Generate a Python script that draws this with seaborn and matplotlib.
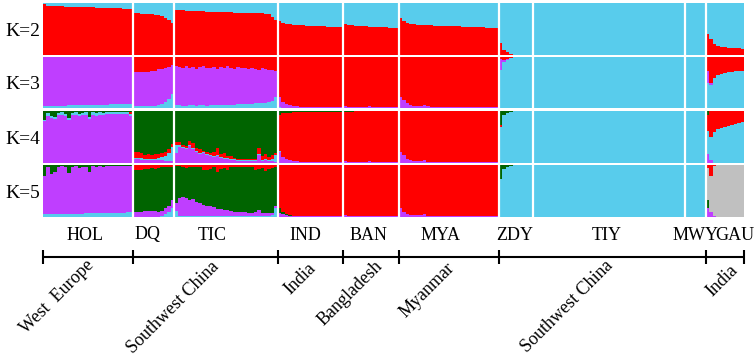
import numpy as np
import pandas as pd
import matplotlib
matplotlib.use("Agg")
import matplotlib.pyplot as plt
import seaborn as sns

# ---------------------------------------------------------------- data
GROUPS = ["HOL", "DQ", "TIC", "IND", "BAN", "MYA", "ZDY", "TIY", "MWY", "GAU"]
REGIONS = ["West  Europe", "Southwest China", "India", "Bangladesh",
           "Myanmar", "Southwest China", "India"]
REGION_GROUPS = [["HOL"], ["DQ", "TIC"], ["IND"], ["BAN"], ["MYA"],
                 ["ZDY", "TIY", "MWY"], ["GAU"]]
K_LABELS = ["K=2", "K=3", "K=4", "K=5"]

# cluster columns, listed bottom -> top of each bar
K2_COLS = ["red", "blue"]
K3_COLS = ["blue", "purple", "red"]
K4_COLS = ["purple", "blue", "red", "green"]
K5_COLS = ["blue", "purple", "green", "gray", "red"]

# K=2 : red share of each individual (blue is the rest)
K2_RED = {
    "HOL": [0.99, 0.95, 0.95, 0.94, 0.94, 0.94, 0.93, 0.93, 0.93, 0.93, 0.92, 0.92, 0.92,
            0.92, 0.92, 0.91, 0.91, 0.91, 0.91, 0.90, 0.90, 0.90, 0.90, 0.89, 0.89, 0.89],
    "DQ": [0.80, 0.80, 0.79, 0.79, 0.78, 0.78, 0.77, 0.76, 0.75, 0.72, 0.68, 0.62],
    "TIC": [0.87, 0.86, 0.86, 0.85, 0.85, 0.85, 0.84, 0.84, 0.84, 0.83, 0.83, 0.83, 0.83,
            0.82, 0.82, 0.82, 0.82, 0.81, 0.81, 0.81, 0.81, 0.81, 0.80, 0.80, 0.80, 0.80,
            0.79, 0.78, 0.74, 0.67],
    "IND": [0.66, 0.62, 0.60, 0.59, 0.58, 0.58, 0.57, 0.57, 0.56, 0.56, 0.56, 0.55, 0.55,
            0.55, 0.54, 0.54, 0.54, 0.53, 0.53],
    "BAN": [0.59, 0.58, 0.57, 0.56, 0.56, 0.55, 0.55, 0.54, 0.54, 0.54, 0.53, 0.53, 0.53,
            0.52, 0.52, 0.51],
    "MYA": [0.72, 0.65, 0.61, 0.60, 0.59, 0.58, 0.58, 0.57, 0.57, 0.57, 0.56, 0.56, 0.56,
            0.56, 0.55, 0.55, 0.55, 0.55, 0.54, 0.54, 0.54, 0.54, 0.53, 0.53, 0.53, 0.52,
            0.52, 0.52, 0.51],
    "ZDY": [0.23, 0.10, 0.05, 0.02, 0.0, 0.0, 0.0, 0.0, 0.0, 0.0],
    "TIY": [0.0] * 44,
    "MWY": [0.0] * 6,
    "GAU": [0.40, 0.30, 0.22, 0.18, 0.16, 0.15, 0.14, 0.14, 0.13, 0.13, 0.12],
}

# K=3 rows: (blue, purple, red)
K3_ROWS = {
    "HOL": [(0.03, 0.97, 0)] * 3 + [(0.04, 0.96, 0)] * 4 + [(0.05, 0.95, 0)] * 7
           + [(0.06, 0.94, 0)] * 5 + [(0.07, 0.93, 0)] * 4 + [(0.08, 0.92, 0)] * 3,
    "DQ": [(0.03, 0.68, 0.29), (0.03, 0.68, 0.29), (0.03, 0.67, 0.30), (0.03, 0.67, 0.30),
           (0.04, 0.67, 0.29), (0.04, 0.68, 0.28), (0.04, 0.69, 0.27), (0.05, 0.71, 0.24),
           (0.07, 0.70, 0.23), (0.12, 0.66, 0.22), (0.18, 0.62, 0.20), (0.27, 0.57, 0.16)],
    "TIC": [(0.05, 0.78, 0.17), (0.05, 0.75, 0.20), (0.04, 0.74, 0.22), (0.04, 0.78, 0.18),
            (0.05, 0.74, 0.21), (0.05, 0.76, 0.19), (0.04, 0.73, 0.23), (0.05, 0.75, 0.20),
            (0.05, 0.77, 0.18), (0.04, 0.74, 0.22), (0.05, 0.74, 0.21), (0.05, 0.76, 0.19),
            (0.05, 0.72, 0.23), (0.06, 0.74, 0.20), (0.05, 0.73, 0.22), (0.06, 0.76, 0.18),
            (0.06, 0.73, 0.21), (0.06, 0.71, 0.23), (0.07, 0.73, 0.20), (0.07, 0.72, 0.21),
            (0.07, 0.71, 0.22), (0.08, 0.68, 0.24), (0.08, 0.71, 0.21), (0.09, 0.68, 0.23),
            (0.09, 0.66, 0.25), (0.10, 0.68, 0.22), (0.10, 0.66, 0.24), (0.11, 0.63, 0.26),
            (0.14, 0.61, 0.25), (0.22, 0.51, 0.27)],
    "IND": [(0.02, 0.20, 0.78), (0, 0.12, 0.88), (0, 0.07, 0.93), (0, 0.05, 0.95),
            (0, 0.03, 0.97), (0, 0.03, 0.97), (0, 0.02, 0.98), (0, 0.02, 0.98),
            (0, 0.02, 0.98)] + [(0, 0.01, 0.99)] * 10,
    "BAN": [(0, 0.04, 0.96), (0, 0.02, 0.98)] + [(0, 0.01, 0.99)] * 5
           + [(0, 0.03, 0.97)] + [(0, 0.01, 0.99)] * 8,
    "MYA": [(0, 0.22, 0.78), (0, 0.15, 0.85), (0, 0.09, 0.91), (0, 0.06, 0.94),
            (0, 0.04, 0.96), (0, 0.03, 0.97), (0, 0.03, 0.97), (0, 0.06, 0.94),
            (0, 0.03, 0.97)] + [(0, 0.02, 0.98)] * 20,
    "ZDY": [(0.75, 0.22, 0.03), (0.91, 0.04, 0.05), (0.95, 0.01, 0.04), (0.98, 0, 0.02)]
           + [(1, 0, 0)] * 6,
    "TIY": [(1, 0, 0)] * 44,
    "MWY": [(1, 0, 0)] * 6,
    "GAU": [(0.49, 0.23, 0.28), (0.45, 0.05, 0.50), (0.58, 0, 0.42), (0.64, 0, 0.36),
            (0.67, 0, 0.33), (0.69, 0, 0.31), (0.70, 0, 0.30), (0.71, 0, 0.29),
            (0.72, 0, 0.28), (0.73, 0, 0.27), (0.73, 0, 0.27)],
}

# K=4 rows: (purple, blue, red, green)
K4_ROWS = {
    "HOL": [(0.81, 0.02, 0, 0.17), (0.91, 0.05, 0, 0.04), (0.86, 0.04, 0, 0.10),
            (0.85, 0.03, 0, 0.12), (0.92, 0.05, 0, 0.03), (0.93, 0.05, 0, 0.02),
            (0.91, 0.04, 0, 0.05), (0.83, 0.03, 0, 0.14), (0.92, 0.05, 0, 0.03),
            (0.93, 0.05, 0, 0.02), (0.90, 0.04, 0, 0.06), (0.92, 0.05, 0, 0.03),
            (0.93, 0.05, 0, 0.02), (0.85, 0.03, 0, 0.12), (0.93, 0.05, 0, 0.02),
            (0.91, 0.05, 0, 0.04), (0.93, 0.05, 0, 0.02), (0.92, 0.04, 0, 0.04)]
           + [(0.94, 0.05, 0, 0.01)] * 7 + [(0.90, 0.05, 0.04, 0.01)],
    "DQ": [(0.07, 0.03, 0.12, 0.78), (0.07, 0.03, 0.12, 0.78), (0.06, 0.03, 0.10, 0.81),
           (0.05, 0.03, 0.08, 0.84), (0.05, 0.03, 0.09, 0.83), (0.05, 0.03, 0.08, 0.84),
           (0.05, 0.03, 0.10, 0.82), (0.05, 0.04, 0.08, 0.83), (0.05, 0.06, 0.08, 0.81),
           (0.04, 0.10, 0.07, 0.79), (0.04, 0.16, 0.06, 0.74), (0.04, 0.26, 0.06, 0.64)],
    "TIC": [(0.20, 0.15, 0.05, 0.60), (0.30, 0.04, 0.06, 0.60), (0.28, 0.02, 0.04, 0.66),
            (0.27, 0.02, 0.03, 0.68), (0.32, 0.02, 0.08, 0.58), (0.26, 0.02, 0.10, 0.62),
            (0.22, 0.02, 0.04, 0.72), (0.18, 0.02, 0.06, 0.74), (0.19, 0.02, 0.03, 0.76),
            (0.15, 0.02, 0.05, 0.78), (0.14, 0.02, 0.04, 0.80), (0.12, 0.02, 0.08, 0.78),
            (0.14, 0.02, 0.12, 0.72), (0.10, 0.02, 0.06, 0.82), (0.08, 0.02, 0.10, 0.80),
            (0.07, 0.02, 0.05, 0.86), (0.06, 0.02, 0.06, 0.86), (0.05, 0.02, 0.03, 0.90),
            (0.04, 0.02, 0.02, 0.92), (0.03, 0.02, 0.03, 0.92), (0.03, 0.02, 0.03, 0.92),
            (0.03, 0.02, 0.02, 0.93), (0.03, 0.02, 0.03, 0.92), (0.03, 0.02, 0.03, 0.92),
            (0.15, 0.03, 0.10, 0.72), (0.04, 0.02, 0.08, 0.86), (0.05, 0.03, 0.10, 0.82),
            (0.03, 0.03, 0.06, 0.88), (0.03, 0.05, 0.08, 0.84), (0.02, 0.14, 0.04, 0.80)],
    "IND": [(0.22, 0.02, 0.68, 0.08), (0.12, 0, 0.84, 0.04), (0.07, 0, 0.90, 0.03),
            (0.05, 0, 0.92, 0.03), (0.04, 0, 0.94, 0.02), (0.03, 0, 0.95, 0.02),
            (0.02, 0, 0.96, 0.02), (0.02, 0, 0.97, 0.01)] + [(0.01, 0, 0.98, 0.01)] * 11,
    "BAN": [(0.04, 0, 0.94, 0.02), (0.01, 0, 0.97, 0.02), (0.01, 0, 0.97, 0.02)]
           + [(0.01, 0, 0.99, 0)] * 4 + [(0.03, 0, 0.97, 0)] + [(0.01, 0, 0.99, 0)] * 8,
    "MYA": [(0.22, 0, 0.78, 0), (0.15, 0, 0.85, 0), (0.08, 0, 0.92, 0), (0.05, 0, 0.95, 0),
            (0.04, 0, 0.96, 0), (0.03, 0, 0.97, 0), (0.03, 0, 0.97, 0), (0.06, 0, 0.94, 0)]
           + [(0.02, 0, 0.98, 0)] * 21,
    "ZDY": [(0, 0.70, 0.03, 0.27), (0, 0.92, 0, 0.08), (0, 0.96, 0, 0.04), (0, 0.98, 0, 0.02)]
           + [(0, 1, 0, 0)] * 6,
    "TIY": [(0, 1, 0, 0)] * 44,
    "MWY": [(0, 1, 0, 0)] * 6,
    "GAU": [(0.18, 0.44, 0.30, 0.08), (0.06, 0.44, 0.50, 0), (0, 0.60, 0.40, 0),
            (0, 0.65, 0.35, 0), (0, 0.68, 0.32, 0), (0, 0.70, 0.30, 0), (0, 0.72, 0.28, 0),
            (0, 0.73, 0.27, 0), (0, 0.75, 0.25, 0), (0, 0.77, 0.23, 0), (0, 0.79, 0.21, 0)],
}

# K=5 rows: (blue, purple, green, gray, red)
K5_ROWS = {
    "HOL": [(0.05, 0.73, 0.22, 0, 0), (0.05, 0.91, 0.04, 0, 0), (0.05, 0.77, 0.18, 0, 0),
            (0.05, 0.81, 0.14, 0, 0), (0.05, 0.92, 0.03, 0, 0), (0.06, 0.92, 0.02, 0, 0),
            (0.06, 0.90, 0.04, 0, 0), (0.06, 0.78, 0.16, 0, 0), (0.06, 0.91, 0.03, 0, 0),
            (0.06, 0.92, 0.02, 0, 0), (0.06, 0.88, 0.06, 0, 0), (0.06, 0.91, 0.03, 0, 0),
            (0.07, 0.89, 0.04, 0, 0), (0.07, 0.80, 0.13, 0, 0), (0.07, 0.91, 0.02, 0, 0),
            (0.07, 0.89, 0.04, 0, 0), (0.07, 0.91, 0.02, 0, 0), (0.07, 0.90, 0.03, 0, 0)]
           + [(0.08, 0.91, 0.01, 0, 0)] * 6 + [(0.09, 0.90, 0.01, 0, 0), (0.09, 0.89, 0.02, 0, 0)],
    "DQ": [(0, 0.10, 0.80, 0, 0.10), (0, 0.10, 0.80, 0, 0.10), (0, 0.10, 0.80, 0, 0.10),
           (0, 0.11, 0.81, 0, 0.08), (0, 0.12, 0.80, 0, 0.08), (0, 0.12, 0.82, 0, 0.06),
           (0, 0.12, 0.80, 0, 0.08), (0, 0.10, 0.84, 0, 0.06), (0.02, 0.10, 0.84, 0, 0.04),
           (0.05, 0.12, 0.79, 0, 0.04), (0.10, 0.12, 0.74, 0, 0.04), (0.18, 0.14, 0.64, 0, 0.04)],
    "TIC": [(0.12, 0.14, 0.72, 0, 0.02), (0.02, 0.34, 0.62, 0, 0.02), (0.02, 0.36, 0.58, 0, 0.04),
            (0.02, 0.34, 0.58, 0, 0.06), (0.02, 0.30, 0.64, 0, 0.04), (0.02, 0.32, 0.62, 0, 0.04),
            (0.02, 0.26, 0.68, 0, 0.04), (0.02, 0.24, 0.70, 0, 0.04), (0.02, 0.22, 0.66, 0, 0.10),
            (0.02, 0.20, 0.68, 0, 0.10), (0.02, 0.20, 0.70, 0, 0.08), (0.02, 0.18, 0.76, 0, 0.04),
            (0.02, 0.14, 0.70, 0, 0.14), (0.02, 0.14, 0.76, 0, 0.08), (0.02, 0.12, 0.80, 0, 0.06),
            (0.02, 0.12, 0.76, 0, 0.10), (0.02, 0.10, 0.84, 0, 0.04), (0.02, 0.08, 0.86, 0, 0.04),
            (0.02, 0.07, 0.88, 0, 0.03), (0.02, 0.07, 0.88, 0, 0.03), (0.02, 0.07, 0.88, 0, 0.03),
            (0.02, 0.06, 0.89, 0, 0.03), (0.02, 0.06, 0.89, 0, 0.03), (0.02, 0.08, 0.80, 0, 0.10),
            (0.02, 0.12, 0.78, 0, 0.08), (0.02, 0.05, 0.88, 0, 0.05), (0.02, 0.05, 0.82, 0, 0.11),
            (0.02, 0.05, 0.85, 0, 0.08), (0.04, 0.04, 0.87, 0, 0.05), (0.18, 0.04, 0.74, 0, 0.04)],
    "IND": [(0, 0.08, 0.10, 0, 0.82), (0, 0.06, 0.03, 0, 0.91), (0, 0.03, 0.02, 0, 0.95),
            (0, 0.02, 0.02, 0, 0.96)] + [(0, 0.01, 0.01, 0, 0.98)] * 15,
    "BAN": [(0, 0.03, 0.01, 0, 0.96)] + [(0, 0.01, 0, 0, 0.99)] * 15,
    "MYA": [(0, 0.18, 0, 0, 0.82), (0, 0.10, 0, 0, 0.90), (0, 0.06, 0, 0, 0.94),
            (0, 0.04, 0, 0, 0.96), (0, 0.03, 0, 0, 0.97), (0, 0.03, 0, 0, 0.97),
            (0, 0.03, 0, 0, 0.97), (0, 0.05, 0, 0, 0.95)] + [(0, 0.02, 0, 0, 0.98)] * 21,
    "ZDY": [(0.74, 0, 0.26, 0, 0), (0.92, 0, 0.08, 0, 0), (0.96, 0, 0.04, 0, 0),
            (0.98, 0, 0.02, 0, 0)] + [(1, 0, 0, 0, 0)] * 6,
    "TIY": [(1, 0, 0, 0, 0)] * 44,
    "MWY": [(1, 0, 0, 0, 0)] * 6,
    "GAU": [(0, 0.18, 0.14, 0.63, 0.05), (0, 0.10, 0, 0.68, 0.22), (0, 0.02, 0, 0.96, 0.02)]
           + [(0, 0, 0, 1, 0)] * 8,
}

# ---------------------------------------------------------------- style
COLORS = {"red": "#FF0000", "blue": "#58CCEC", "purple": "#BF3EFF",
          "green": "#006400", "gray": "#C0C0C0"}
SERIF = "Liberation Serif"
W, H = 754, 356
LEFT_PX, RIGHT_PX = 43, 744
ROW_PX = [(3, 55), (57, 108), (111, 163), (165, 217)]
POP_LABEL_PX = [85, 148, 212, 305, 368, 441, 515, 607, 696, 735]
POP_LABEL_Y = 235
AXIS_Y = 257
TICK_HALF = 7
REGION_END_PX = [(91, 263), (216, 264), (313, 266), (380, 264), (452, 265),
                 (610, 263), (735, 268)]


def build_matrix(rows_by_group):
    mat = np.vstack([np.asarray(rows_by_group[g], dtype=float) for g in GROUPS])
    return mat / mat.sum(axis=1, keepdims=True)


k2 = np.concatenate([np.asarray(K2_RED[g], dtype=float) for g in GROUPS])
panels = [
    (np.column_stack([k2, 1 - k2]), K2_COLS),
    (build_matrix(K3_ROWS), K3_COLS),
    (build_matrix(K4_ROWS), K4_COLS),
    (build_matrix(K5_ROWS), K5_COLS),
]
sizes = [len(K2_RED[g]) for g in GROUPS]
N = sum(sizes)
bounds = np.cumsum([0] + sizes)

sns.set_theme(style="white")
plt.rcParams["font.family"] = [SERIF, "DejaVu Serif"]

fig = plt.figure(figsize=(W / 100, H / 100), dpi=100)
fig.patch.set_facecolor("white")

for (mat, cols), (top, bot), klab in zip(panels, ROW_PX, K_LABELS):
    ax = fig.add_axes([LEFT_PX / W, 1 - bot / H, (RIGHT_PX - LEFT_PX) / W, (bot - top) / H])
    df = pd.DataFrame(mat, columns=cols)
    df["ind"] = np.arange(N)
    long = df.melt(id_vars="ind", var_name="cluster", value_name="q")
    sns.histplot(data=long, x="ind", weights="q", hue="cluster",
                 hue_order=cols[::-1], palette=COLORS, multiple="stack",
                 discrete=True, shrink=1, linewidth=0, alpha=1,
                 legend=False, ax=ax)
    ax.set_xlim(-0.5, N - 0.5)
    ax.set_ylim(0, 1)
    ax.axis("off")
    for b in bounds[1:-1]:
        ax.axvline(b - 0.5, color="white", lw=1.6)
    fig.text(5 / W, 1 - ((top + bot) / 2 + 2) / H, klab, fontsize=14,
             family=SERIF, color="black", ha="left", va="center")

# baseline with region ticks (data x, pixel y)
axb = fig.add_axes([LEFT_PX / W, 0, (RIGHT_PX - LEFT_PX) / W, 1])
axb.set_xlim(-0.5, N - 0.5)
axb.set_ylim(H, 0)
axb.axis("off")
gidx = {g: i for i, g in enumerate(GROUPS)}
region_edges = [bounds[gidx[r[0]]] for r in REGION_GROUPS] + [N]
axb.hlines(AXIS_Y, -0.5, N - 0.5, color="black", lw=1.5, clip_on=False)
axb.vlines([e - 0.5 for e in region_edges], AXIS_Y - TICK_HALF, AXIS_Y + TICK_HALF,
           color="black", lw=1.5, clip_on=False)

# texts in pixel coordinates
axo = fig.add_axes([0, 0, 1, 1])
axo.set_xlim(0, W)
axo.set_ylim(H, 0)
axo.axis("off")
for g, x in zip(GROUPS, POP_LABEL_PX):
    axo.text(x, POP_LABEL_Y, g, fontsize=13, family=SERIF, color="black",
             ha="center", va="center")
for r, (x, y) in zip(REGIONS, REGION_END_PX):
    axo.text(x, y, r, fontsize=13, family=SERIF, color="black", rotation=45,
             rotation_mode="anchor", ha="right", va="center")

fig.savefig("out.png", dpi=100, facecolor="white")
